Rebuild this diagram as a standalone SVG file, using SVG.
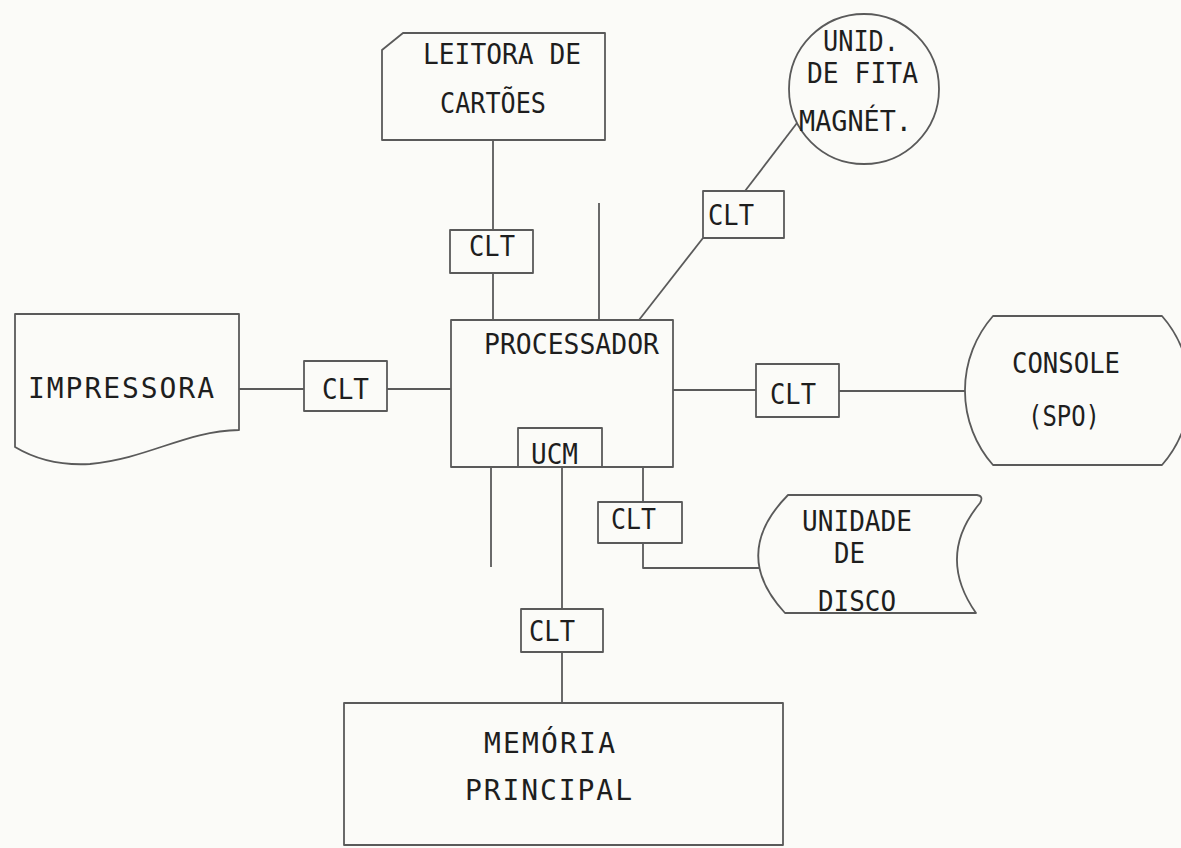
<svg xmlns="http://www.w3.org/2000/svg" width="1181" height="848" viewBox="0 0 1181 848">
<style>
.s{fill:none;stroke:#5a5a5a;stroke-width:1.8;stroke-linejoin:round}
.b{fill:#fbfbf8;stroke:#5a5a5a;stroke-width:1.8;stroke-linejoin:round}
.t{font-family:"DejaVu Sans Mono","Liberation Mono",monospace;font-size:28px;fill:#1e1e1e}
</style>
<rect x="0" y="0" width="1181" height="848" fill="#fbfbf8"/>
<g id="connectors" class="s">
<line x1="493" y1="140" x2="493" y2="230"/>
<line x1="493" y1="273" x2="493" y2="320"/>
<line x1="599" y1="203" x2="599" y2="320"/>
<line x1="639" y1="320" x2="703" y2="238"/>
<line x1="745" y1="191" x2="797" y2="123"/>
<line x1="239" y1="389" x2="304" y2="389"/>
<line x1="387" y1="389" x2="451" y2="389"/>
<line x1="673" y1="390" x2="756" y2="390"/>
<line x1="839" y1="391" x2="965" y2="391"/>
<line x1="491" y1="467" x2="491" y2="567"/>
<line x1="562" y1="467" x2="562" y2="609"/>
<line x1="562" y1="652" x2="562" y2="703"/>
<line x1="643" y1="467" x2="643" y2="502"/>
<polyline points="643,543 643,568 760,568"/>
</g>
<g id="leitora">
<path class="b" d="M403,33 L605,33 L605,140 L382,140 L382,50 Z"/>
<text class="t" x="423" y="64" textLength="158" lengthAdjust="spacingAndGlyphs">LEITORA DE</text>
<text class="t" x="440" y="113" textLength="106" lengthAdjust="spacingAndGlyphs">CARTÕES</text>
</g>
<g id="clt-leitora">
<rect class="b" x="450" y="230" width="83" height="43"/>
<text class="t" x="469" y="256" textLength="46" lengthAdjust="spacingAndGlyphs">CLT</text>
</g>
<g id="fita">
<circle class="b" cx="864" cy="89" r="75"/>
<text class="t" x="823" y="51" textLength="76" lengthAdjust="spacingAndGlyphs">UNID.</text>
<text class="t" x="807" y="83" textLength="111" lengthAdjust="spacingAndGlyphs">DE FITA</text>
<text class="t" x="799" y="131" textLength="113" lengthAdjust="spacingAndGlyphs">MAGNÉT.</text>
</g>
<g id="clt-fita">
<rect class="b" x="703" y="191" width="81" height="47"/>
<text class="t" x="708" y="225" textLength="46" lengthAdjust="spacingAndGlyphs">CLT</text>
</g>
<g id="impressora">
<path class="b" d="M15,314 L239,314 L239,430 C185,431 150,458 90,464 C55,466 30,456 15,447 Z"/>
<text class="t" x="28" y="398" textLength="186" lengthAdjust="spacing">IMPRESSORA</text>
</g>
<g id="clt-impressora">
<rect class="b" x="304" y="361" width="83" height="50"/>
<text class="t" x="322" y="399" textLength="47" lengthAdjust="spacingAndGlyphs">CLT</text>
</g>
<g id="processador">
<rect class="b" x="451" y="320" width="222" height="147"/>
<text class="t" x="484" y="354" textLength="175" lengthAdjust="spacingAndGlyphs">PROCESSADOR</text>
<rect class="b" x="518" y="428" width="84" height="39"/>
<text class="t" x="531" y="464" textLength="47" lengthAdjust="spacingAndGlyphs">UCM</text>
</g>
<g id="clt-console">
<rect class="b" x="756" y="364" width="83" height="53"/>
<text class="t" x="770" y="404" textLength="46" lengthAdjust="spacingAndGlyphs">CLT</text>
</g>
<g id="console">
<path class="b" d="M993,316 L1162,316 A113,113 0 0 1 1162,465 L993,465 A113,113 0 0 1 993,316 Z"/>
<text class="t" x="1012" y="373" textLength="108" lengthAdjust="spacingAndGlyphs">CONSOLE</text>
<text class="t" x="1028" y="426" textLength="72" lengthAdjust="spacingAndGlyphs">(SPO)</text>
</g>
<g id="clt-disco">
<rect class="b" x="598" y="502" width="84" height="41"/>
<text class="t" x="611" y="529" textLength="45" lengthAdjust="spacingAndGlyphs">CLT</text>
</g>
<g id="disco">
<path class="b" d="M788,495 L977,495 Q984,496 980,503 Q936,556 976,613 L785,613 Q730,554 788,495 Z"/>
<text class="t" x="802" y="531" textLength="110" lengthAdjust="spacingAndGlyphs">UNIDADE</text>
<text class="t" x="834" y="563" textLength="31" lengthAdjust="spacingAndGlyphs">DE</text>
<text class="t" x="818" y="611" textLength="78" lengthAdjust="spacingAndGlyphs">DISCO</text>
</g>
<g id="clt-memoria">
<rect class="b" x="521" y="609" width="82" height="43"/>
<text class="t" x="529" y="641" textLength="46" lengthAdjust="spacingAndGlyphs">CLT</text>
</g>
<g id="memoria">
<rect class="b" x="344" y="703" width="439" height="142"/>
<text class="t" x="484" y="753" textLength="131" lengthAdjust="spacing">MEMÓRIA</text>
<text class="t" x="465" y="800" textLength="167" lengthAdjust="spacing">PRINCIPAL</text>
</g>
</svg>
